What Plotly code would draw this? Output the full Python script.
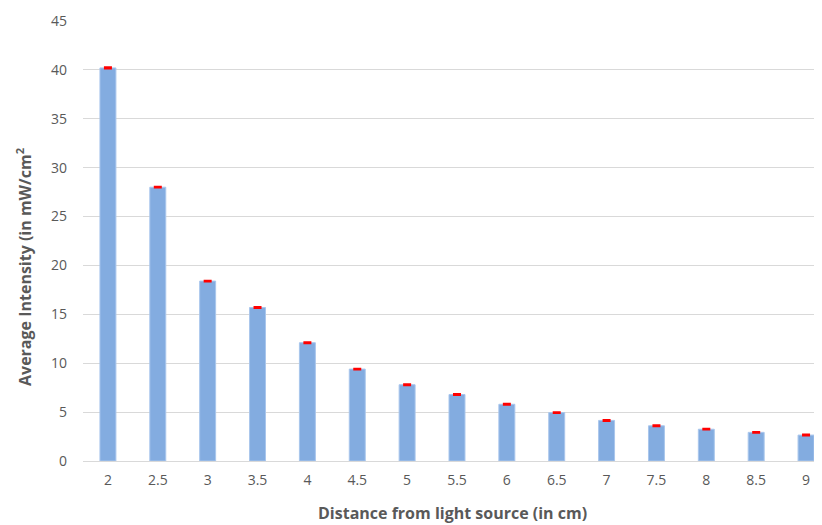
import plotly.graph_objects as go

distances = ["2", "2.5", "3", "3.5", "4", "4.5", "5", "5.5", "6", "6.5", "7", "7.5", "8", "8.5", "9"]
intensity = [40.2, 28.0, 18.4, 15.7, 12.1, 9.4, 7.8, 6.8, 5.8, 4.95, 4.15, 3.6, 3.25, 2.93, 2.65]
errors = [0.06, 0.04, 0.04, 0.04, 0.05, 0.04, 0.05, 0.06, 0.05, 0.04, 0.05, 0.05, 0.04, 0.04, 0.05]
y_ticks = [0, 5, 10, 15, 20, 25, 30, 35, 40, 45]

# page body has an 8px default margin, so the figure is sized 8px smaller
W, H = 814, 517
L, R, T, B = 75, 0, 13, 64
pw, ph = W - L - R, H - T - B

fig = go.Figure()
fig.add_trace(go.Bar(
    x=distances,
    y=intensity,
    width=0.32,
    marker=dict(color="#83ACE0", line=dict(color="#A9C6EC", width=1)),
    error_y=dict(type="data", array=errors, visible=True, color="#FF0000", thickness=2, width=4),
))

font_family = "Open Sans, Liberation Sans, sans-serif"
fig.update_layout(
    width=W, height=H,
    margin=dict(l=L, r=R, t=T, b=B),
    plot_bgcolor="white", paper_bgcolor="white",
    showlegend=False,
    font=dict(family=font_family, color="#595959", size=14),
    xaxis=dict(
        type="category",
        range=[-0.5, 14.32],
        showgrid=False,
        showline=True, linecolor="#D9D9D9", linewidth=1,
        ticks="", tickfont=dict(size=14, color="#595959"),
        ticklabelstandoff=6,
    ),
    yaxis=dict(
        range=[0, 45],
        tickvals=y_ticks,
        showgrid=True, gridcolor="#D9D9D9", gridwidth=1,
        zeroline=False,
        ticks="", tickfont=dict(size=14, color="#595959"),
        ticklabelstandoff=15,
    ),
    annotations=[
        dict(text="<b>Distance from light source (in cm)</b>", xref="paper", yref="paper",
             x=(452 - 8 - L) / pw, y=(T + ph - (513 - 8)) / ph, xanchor="center", yanchor="middle",
             showarrow=False, font=dict(size=16, color="#595959")),
        dict(text="<b>Average Intensity (in mW/cm<sup>2</sup></b>", xref="paper", yref="paper",
             x=(24 - 8 - L) / pw, y=(T + ph - (267 - 8)) / ph, xanchor="center", yanchor="middle",
             textangle=-90, showarrow=False, font=dict(size=16, color="#595959")),
    ],
)

fig.write_html("out.html")
